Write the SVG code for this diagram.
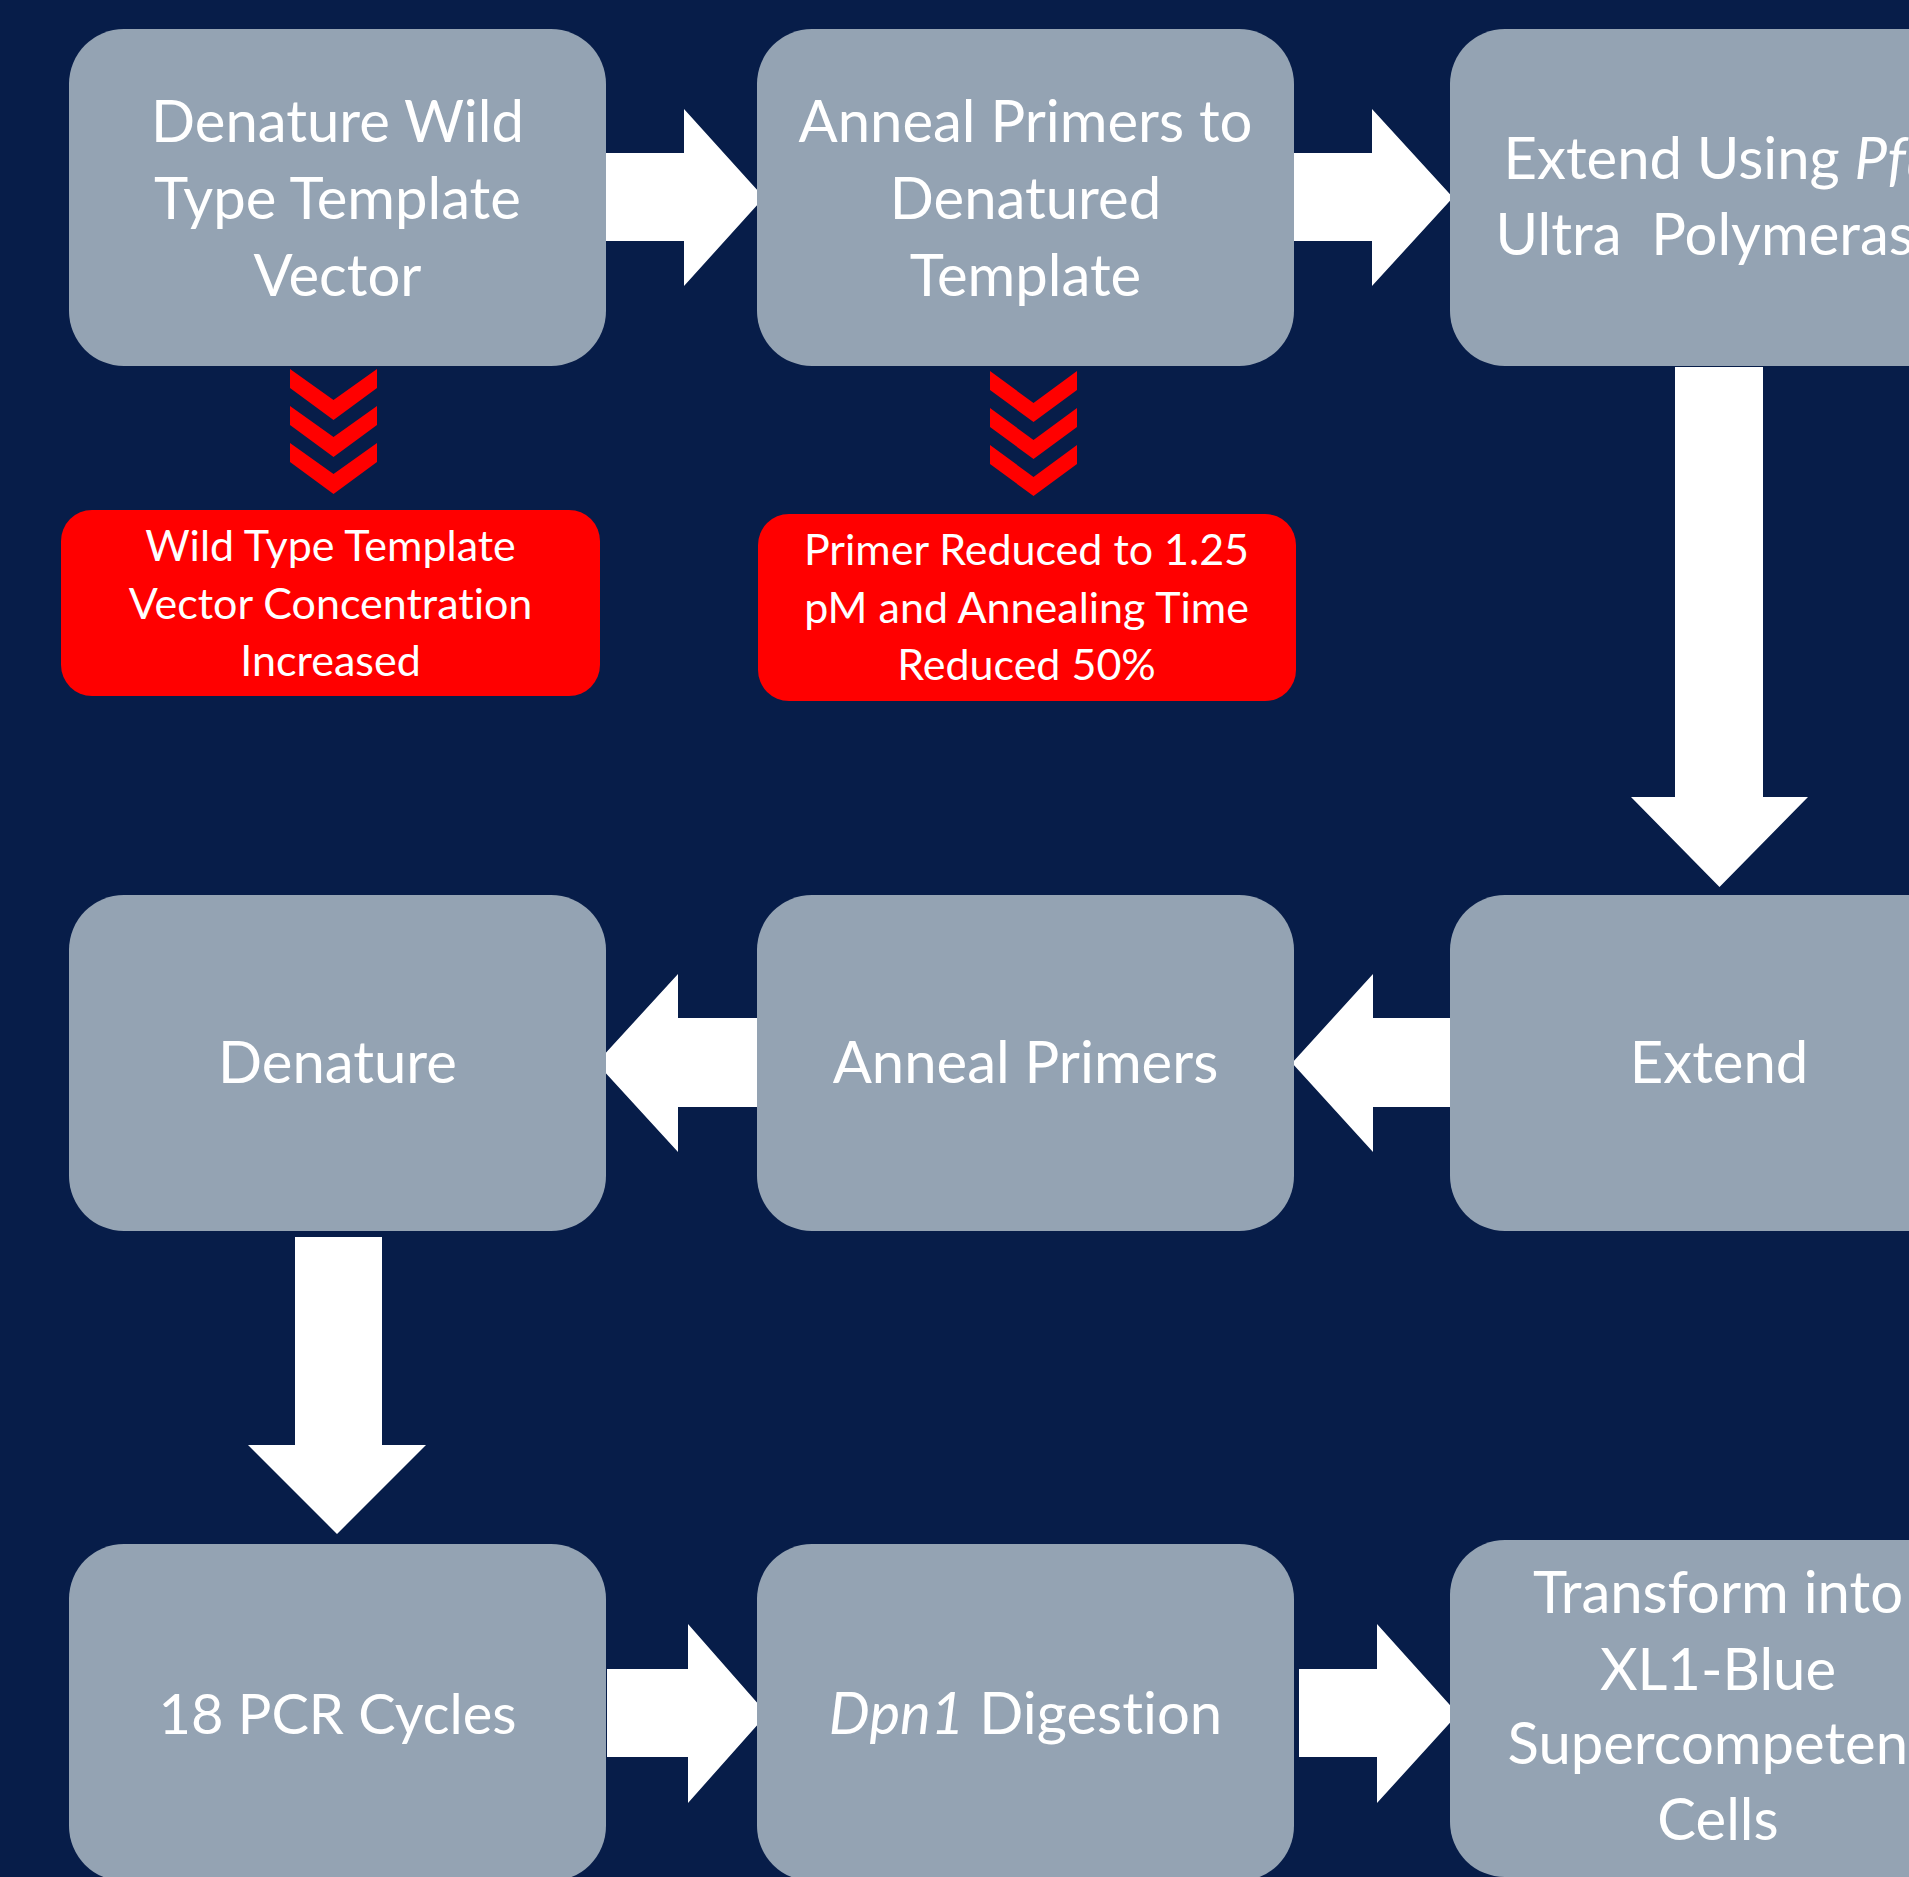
<svg xmlns="http://www.w3.org/2000/svg" width="1909" height="1877" viewBox="0 0 1909 1877">
<style>
.box{fill:#94A3B3}
.red{fill:#FF0000}
.arr{fill:#FFFFFF}
.t{font-family:Lato,"Liberation Sans",sans-serif;font-size:58px;fill:#FFFFFF;text-anchor:middle;font-variant-ligatures:none}
.rt{font-family:Lato,"Liberation Sans",sans-serif;font-size:43px;fill:#FFFFFF;text-anchor:middle;font-variant-ligatures:none}
.it{font-style:italic}
</style>
<defs>
<polygon id="chevA" points="290,369 333.5,400 377,369 377,388 333.5,420 290,388"/>
<polygon id="chevB" points="990,371 1033.5,403 1077,371 1077,390 1033.5,422 990,390"/>
</defs>
<rect x="0" y="0" width="1909" height="1877" fill="#071D49"/>

<g id="connectors">
<polygon class="arr" points="606,153 684,153 684,109 764,197.5 684,286 684,241 606,241"/>
<polygon class="arr" points="1294,153 1372,153 1372,109 1453,197.5 1372,286 1372,241 1294,241"/>
<polygon class="arr" points="1675,367 1675,797 1631,797 1719.5,887 1808,797 1763,797 1763,367"/>
<polygon class="arr" points="757,1018 678,1018 678,974 596.5,1063 678,1152 678,1107 757,1107"/>
<polygon class="arr" points="1451,1018 1373,1018 1373,974 1292,1063 1373,1152 1373,1107 1451,1107"/>
<polygon class="arr" points="295,1237 295,1445 248,1445 337,1534 426,1445 382,1445 382,1237"/>
<polygon class="arr" points="607,1669 688,1669 688,1624 767,1714 688,1803 688,1757 607,1757"/>
<polygon class="arr" points="1299,1669 1377,1669 1377,1624 1458,1714 1377,1803 1377,1757 1299,1757"/>
<g class="red">
<use href="#chevA"/><use href="#chevA" y="37"/><use href="#chevA" y="74"/>
<use href="#chevB"/><use href="#chevB" y="37"/><use href="#chevB" y="74"/>
</g>
</g>

<g id="n1">
<rect class="box" x="69" y="29" width="537" height="337" rx="55"/>
<text class="t" x="337.5" y="142">Denature Wild</text>
<text class="t" x="337.5" y="219">Type Template</text>
<text class="t" x="337.5" y="296">Vector</text>
</g>
<g id="n2">
<rect class="box" x="757" y="29" width="537" height="337" rx="55"/>
<text class="t" x="1025.5" y="142">Anneal Primers to</text>
<text class="t" x="1025.5" y="219">Denatured</text>
<text class="t" x="1025.5" y="296">Template</text>
</g>
<g id="n3">
<rect class="box" x="1450" y="29" width="537" height="337" rx="55"/>
<text class="t" x="1720" y="179">Extend Using <tspan class="it">Pfu</tspan></text>
<text class="t" x="1720" y="255" xml:space="preserve">Ultra  Polymerase</text>
</g>
<g id="r1">
<rect class="red" x="61" y="510" width="539" height="186" rx="31"/>
<text class="rt" x="330.5" y="561">Wild Type Template</text>
<text class="rt" x="330.5" y="619">Vector Concentration</text>
<text class="rt" x="330.5" y="676">Increased</text>
</g>
<g id="r2">
<rect class="red" x="758" y="514" width="538" height="187" rx="31"/>
<text class="rt" x="1026.5" y="565">Primer Reduced to 1.25</text>
<text class="rt" x="1026.5" y="623">pM and Annealing Time</text>
<text class="rt" x="1026.5" y="680">Reduced 50%</text>
</g>
<g id="n4">
<rect class="box" x="69" y="895" width="537" height="336" rx="55"/>
<text class="t" x="337.5" y="1083">Denature</text>
</g>
<g id="n5">
<rect class="box" x="757" y="895" width="537" height="336" rx="55"/>
<text class="t" x="1025.5" y="1083">Anneal Primers</text>
</g>
<g id="n6">
<rect class="box" x="1450" y="895" width="537" height="336" rx="55"/>
<text class="t" x="1719" y="1083">Extend</text>
</g>
<g id="n7">
<rect class="box" x="69" y="1544" width="537" height="337" rx="55"/>
<text class="t" x="337.5" y="1734" style="font-size:56px">18 PCR Cycles</text>
</g>
<g id="n8">
<rect class="box" x="757" y="1544" width="537" height="337" rx="55"/>
<text class="t" x="1025.5" y="1734"><tspan class="it">Dpn1</tspan> Digestion</text>
</g>
<g id="n9">
<rect class="box" x="1450" y="1540" width="537" height="337" rx="55"/>
<text class="t" x="1718" y="1613">Transform into</text>
<text class="t" x="1718" y="1690">XL1-Blue</text>
<text class="t" x="1718" y="1764">Supercompetent</text>
<text class="t" x="1718" y="1840">Cells</text>
</g>
</svg>
